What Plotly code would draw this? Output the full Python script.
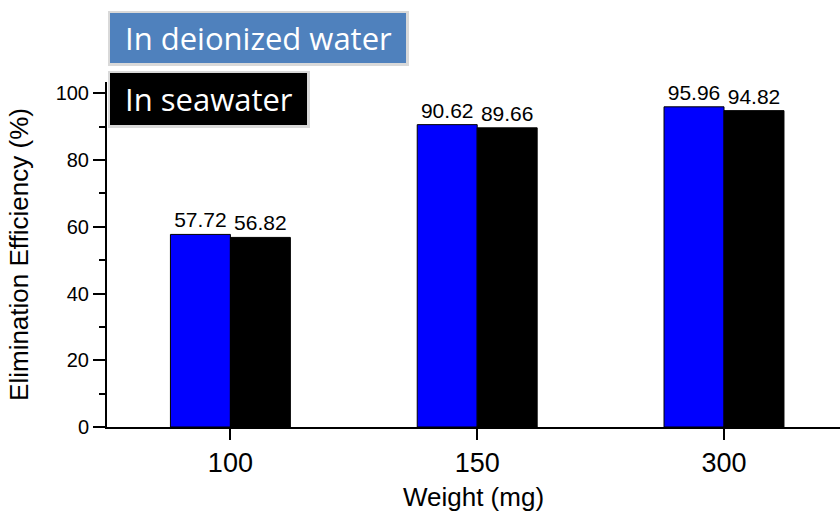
import plotly.graph_objects as go

categories = ["100", "150", "300"]
deionized = [57.72, 90.62, 95.96]
seawater = [56.82, 89.66, 94.82]
legend_labels = ["In deionized water", "In seawater"]

W, H = 840, 517
L, R, T, B = 107, 0, 82, 90
pw, ph = W - L - R, H - T - B

def px(x):
    return (x - L) / pw

def py(y):
    return (H - B - y) / ph

fig = go.Figure()
for vals, col, name in [(deionized, "#0000FF", legend_labels[0]), (seawater, "#000000", legend_labels[1])]:
    fig.add_trace(go.Bar(
        x=categories, y=vals, name=name,
        marker=dict(color=col, line=dict(color="#000000", width=1)),
        text=[f"{v:.2f}" for v in vals], textposition="outside",
        textfont=dict(family="Arial", size=21, color="#000000"),
        cliponaxis=False,
    ))

fig.update_layout(
    width=W, height=H,
    margin=dict(l=L, r=R, t=T, b=B),
    paper_bgcolor="white", plot_bgcolor="white",
    barmode="group", bargap=0.514, bargroupgap=0,
    showlegend=False,
    uniformtext=dict(minsize=8, mode="show"),
    font=dict(family="Arial", color="#000000"),
    xaxis=dict(
        type="category", range=[-0.5, 2.47],
        showline=True, linecolor="#000000", linewidth=2,
        ticks="outside", ticklen=11, tickwidth=2, tickcolor="#000000",
        tickfont=dict(size=27, family="Arial"),
        title=dict(text="Weight (mg)", font=dict(size=26, family="Arial"), standoff=10),
        showgrid=False, zeroline=False,
    ),
    yaxis=dict(
        range=[0, 103.4],
        showline=True, linecolor="#000000", linewidth=2,
        ticks="outside", ticklen=12, tickwidth=2, tickcolor="#000000",
        dtick=20, tick0=0,
        minor=dict(dtick=10, ticks="outside", ticklen=6, tickwidth=2, tickcolor="#000000"),
        tickfont=dict(size=20, family="Arial"),
        title=dict(text="Elimination Efficiency (%)", font=dict(size=26, family="Arial"), standoff=20),
        showgrid=False, zeroline=False,
    ),
)

# legend boxes (drawn as text boxes like the original)
boxes = [
    (legend_labels[0], 110, 406, 13, 63, "#4F81BD"),
    (legend_labels[1], 110, 307, 73, 125, "#000000"),
]
for text, x0, x1, y0, y1, bg in boxes:
    fig.add_shape(type="rect", xref="paper", yref="paper",
                  x0=px(x0 - 2), x1=px(x1 + 3), y0=py(y1 + 3), y1=py(y0 - 2),
                  fillcolor="#D9D9D9", line=dict(width=0), layer="above")
    fig.add_shape(type="rect", xref="paper", yref="paper",
                  x0=px(x0), x1=px(x1), y0=py(y1), y1=py(y0),
                  fillcolor=bg, line=dict(width=0), layer="above")
    fig.add_annotation(xref="paper", yref="paper",
                       x=px((x0 + x1) / 2), y=py((y0 + y1) / 2),
                       text=text, showarrow=False,
                       font=dict(family="Open Sans", size=31, color="#FFFFFF"),
                       xanchor="center", yanchor="middle")

fig.write_html("out.html")
